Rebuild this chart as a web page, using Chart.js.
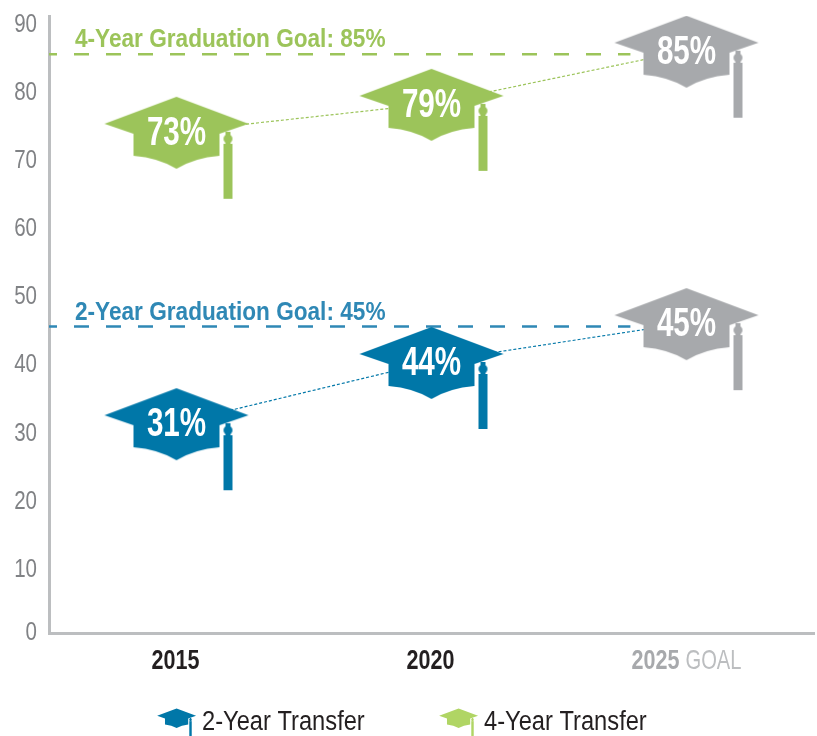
<!DOCTYPE html>
<html>
<head>
<meta charset="utf-8">
<title>Graduation goals</title>
<script src="https://cdn.jsdelivr.net/npm/chart.js@4"></script>
<style>
  html, body { margin: 0; padding: 0; background: #fff; }
  canvas { display: block; }
</style>
</head>
<body>
<canvas id="myChart" width="817" height="736"></canvas>
<script>
const categories = ['2015', '2020', '2025'];
const yTicks = [0, 10, 20, 30, 40, 50, 60, 70, 80, 90];

// the printed percentages
const twoYearLabels = [31, 44, 45];
const fourYearLabels = [73, 79, 85];

// where the hats actually sit on the axis (the picture doesn't place them exactly at the printed value)
const twoYearPlaced = [30.8, 39.8, 45.5];
const fourYearPlaced = [73.6, 77.7, 85.5];

const twoYearGoal = 45;
const fourYearGoal = 85;
// goal lines run from the axis to just short of the 2025 hat, in category units
const goalLineX = [-0.5, 1.78];

const FONT = '"Liberation Sans", sans-serif';
const BLUE = '#0077a8';
const GREEN = '#9cc45a';
const GREY = '#a7a9ac';

function hat(color, scale) {
  const c = document.createElement('canvas');
  c.width = 160 * scale;
  c.height = 140 * scale;
  const g = c.getContext('2d');
  g.scale(scale, scale);
  g.translate(80, 70); // hat centre, where the percentage goes
  g.fillStyle = color;
  g.beginPath();
  g.moveTo(0, -35);
  g.lineTo(72, -8);
  g.lineTo(43, 2);
  g.lineTo(43, 24);
  g.quadraticCurveTo(18, 26, 0, 37);
  g.quadraticCurveTo(-18, 26, -43, 24);
  g.lineTo(-43, 2);
  g.lineTo(-72, -8);
  g.closePath();
  g.fill();
  // tassel
  g.fillRect(47, 12, 9, 55);
  g.fillRect(49, 0, 5, 12);
  g.beginPath();
  g.arc(51.5, 7, 4.5, 0, Math.PI * 2);
  g.fill();
  return c;
}

const blueHat = hat(BLUE, 1);
const greenHat = hat(GREEN, 1);
const greyHat = hat(GREY, 1);
const smallBlueHat = hat(BLUE, 0.27);
const smallGreenHat = hat('#b0d564', 0.27);

// no condensed face is installed, so squeeze the text horizontally
function squeezed(ctx, str, x, y, sx) {
  ctx.save();
  ctx.translate(x, y);
  ctx.scale(sx, 1);
  ctx.fillText(str, 0, 0);
  ctx.restore();
}

const hatText = {
  id: 'hatText',
  afterDatasetsDraw(chart) {
    const ctx = chart.ctx;
    const xs = chart.scales.x;
    const ys = chart.scales.y;
    const x2 = chart.scales.x2;
    ctx.save();

    // y tick labels
    ctx.fillStyle = '#808285';
    ctx.font = '25px ' + FONT;
    ctx.textAlign = 'right';
    ctx.textBaseline = 'middle';
    ys.ticks.forEach((t, i) => {
      // the zero sits right on the axis line, the others a little under their value
      const off = t.value === 0 ? 0 : 5;
      squeezed(ctx, String(t.value), 37, ys.getPixelForTick(i) + off, 0.82);
    });

    // percentages on the hats
    ctx.fillStyle = '#fff';
    ctx.font = 'bold 40px ' + FONT;
    ctx.textAlign = 'center';
    [[0, twoYearLabels], [1, fourYearLabels]].forEach(([idx, labels]) => {
      chart.getDatasetMeta(idx).data.forEach((pt, i) => {
        squeezed(ctx, labels[i] + '%', pt.x, pt.y + 2, 0.74);
      });
    });

    // goal captions
    ctx.textAlign = 'left';
    ctx.textBaseline = 'alphabetic';
    ctx.font = 'bold 26px ' + FONT;
    ctx.fillStyle = GREEN;
    squeezed(ctx, '4-Year Graduation Goal: ' + fourYearGoal + '%', x2.getPixelForValue(-0.5) + 26, ys.getPixelForValue(fourYearGoal) - 7, 0.87);
    ctx.fillStyle = '#2f88b5';
    squeezed(ctx, '2-Year Graduation Goal: ' + twoYearGoal + '%', x2.getPixelForValue(-0.5) + 26, ys.getPixelForValue(twoYearGoal) - 7, 0.87);

    // x labels, the last one has two weights
    ctx.textBaseline = 'middle';
    const y = ys.bottom + 28;
    categories.forEach((cat, i) => {
      const px = xs.getPixelForTick(i);
      if (i < 2) {
        ctx.textAlign = 'center';
        ctx.font = 'bold 28px ' + FONT;
        ctx.fillStyle = '#231f20';
        squeezed(ctx, cat, px - 1, y, 0.77);
      } else {
        ctx.textAlign = 'left';
        ctx.font = 'bold 28px ' + FONT;
        ctx.fillStyle = GREY;
        squeezed(ctx, cat, px - 55, y, 0.77);
        ctx.font = '28px ' + FONT;
        ctx.fillStyle = '#bcbec0';
        squeezed(ctx, 'GOAL', px - 55 + 54, y, 0.72);
      }
    });

    // legend
    ctx.textAlign = 'left';
    ctx.font = '27px ' + FONT;
    ctx.fillStyle = '#231f20';
    ctx.drawImage(smallBlueHat, 155, 699);
    squeezed(ctx, chart.data.datasets[0].label, 202, 723, 0.877);
    ctx.drawImage(smallGreenHat, 437, 699);
    squeezed(ctx, chart.data.datasets[1].label, 484, 723, 0.877);
    ctx.restore();
  }
};

const goalLine = (label, goal, color) => ({
  label: label,
  data: goalLineX.map(x => ({ x: x, y: goal })),
  xAxisID: 'x2',
  borderColor: color,
  borderWidth: 2.5,
  borderDash: [15, 17],
  borderDashOffset: 7,
  pointRadius: 0,
  order: 3
});

const ctx = document.getElementById('myChart').getContext('2d');
new Chart(ctx, {
  type: 'line',
  data: {
    labels: categories,
    datasets: [
      {
        label: '2-Year Transfer',
        data: twoYearPlaced,
        borderColor: BLUE,
        borderWidth: 1.2,
        borderDash: [3, 2],
        pointStyle: [blueHat, blueHat, greyHat],
        pointRadius: 10,
        order: 1
      },
      {
        label: '4-Year Transfer',
        data: fourYearPlaced,
        borderColor: GREEN,
        borderWidth: 1.2,
        borderDash: [3, 2],
        pointStyle: [greenHat, greenHat, greyHat],
        pointRadius: 10,
        order: 1
      },
      goalLine('2-Year Goal', twoYearGoal, '#2f88b5'),
      goalLine('4-Year Goal', fourYearGoal, GREEN)
    ]
  },
  options: {
    responsive: false,
    animation: false,
    layout: { autoPadding: false, padding: { top: 16, right: 3, bottom: 103, left: 0 } },
    plugins: { legend: { display: false }, tooltip: { enabled: false } },
    scales: {
      x: {
        offset: true,
        grid: { display: false, drawTicks: false },
        border: { color: '#bcbec0', width: 3 },
        ticks: { display: false },
        afterFit(scale) { scale.height = 0; }
      },
      x2: { type: 'linear', display: false, min: -0.5, max: 2.5 },
      y: {
        min: 0,
        max: 90.6,
        afterBuildTicks(scale) { scale.ticks = yTicks.map(v => ({ value: v })); },
        afterFit(scale) { scale.width = 49; },
        grid: { display: false, drawTicks: false },
        border: { color: '#bcbec0', width: 3 },
        ticks: { display: false }
      }
    }
  },
  plugins: [hatText]
});
</script>
</body>
</html>
